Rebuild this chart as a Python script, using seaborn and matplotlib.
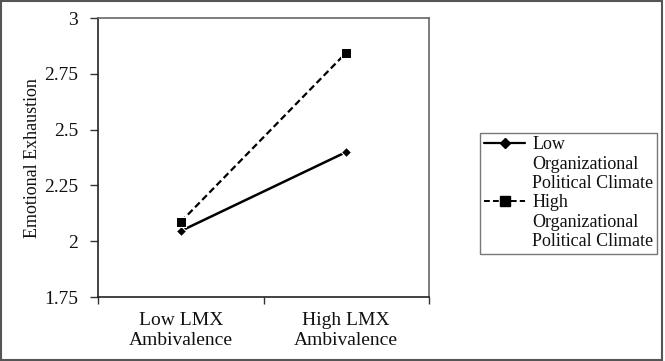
import matplotlib

matplotlib.use("Agg")

import matplotlib.pyplot as plt
import pandas as pd
import seaborn as sns
from matplotlib.lines import Line2D
from matplotlib.patches import Rectangle


LMX_LEVELS = ["Low LMX\nAmbivalence", "High LMX\nAmbivalence"]
LOW_CLIMATE = [2.046, 2.400]
HIGH_CLIMATE = [2.087, 2.845]
SERIES = ["Low Organizational Political Climate", "High Organizational Political Climate"]
Y_TICKS = [1.75, 2, 2.25, 2.5, 2.75, 3]
Y_TICK_LABELS = ["1.75", "2", "2.25", "2.5", "2.75", "3"]


def set_theme() -> None:
    sns.set_theme(style="white")
    plt.rcParams.update(
        {
            "font.family": ["Liberation Serif", "DejaVu Serif"],
            "font.size": 13,
            "text.color": "#111111",
            "axes.labelcolor": "#111111",
            "xtick.color": "#333333",
            "ytick.color": "#333333",
            "xtick.labelcolor": "#111111",
            "ytick.labelcolor": "#111111",
        }
    )


def main() -> None:
    set_theme()
    df = pd.DataFrame(
        {
            "lmx": LMX_LEVELS * 2,
            "ee": LOW_CLIMATE + HIGH_CLIMATE,
            "climate": [SERIES[0]] * 2 + [SERIES[1]] * 2,
        }
    )

    fig = plt.figure(figsize=(6.65, 3.61), dpi=100)
    ax = fig.add_axes([0.1474, 0.177, 0.4977, 0.773])

    sns.lineplot(
        data=df[df["climate"] == SERIES[0]], x="lmx", y="ee", color="black",
        marker="D", markersize=5.5, linewidth=1.8, linestyle="-", ax=ax, legend=False,
    )
    sns.lineplot(
        data=df[df["climate"] == SERIES[1]], x="lmx", y="ee", color="black",
        marker="s", markersize=7, linewidth=1.6, linestyle=(0, (3, 1.6)), ax=ax, legend=False,
    )

    ax.set_xlim(-0.5, 1.5)
    ax.set_ylim(1.75, 3)
    ax.set_yticks(Y_TICKS)
    ax.set_yticklabels(Y_TICK_LABELS)
    ax.set_xticks([0, 1])
    ax.set_xticklabels(LMX_LEVELS, linespacing=1.22)
    ax.set_xticks([-0.5, 0.5, 1.5], minor=True)
    ax.tick_params(axis="x", which="major", length=0, pad=11, labelsize=14)
    ax.tick_params(axis="x", which="minor", length=5, width=1, direction="out", bottom=True)
    ax.tick_params(axis="y", length=6, width=1, direction="out", left=True, pad=8.5, labelsize=14)
    ax.set_xlabel("")
    ax.set_ylabel("Emotional Exhaustion", fontsize=13, labelpad=2)

    for side in ["left", "bottom"]:
        ax.spines[side].set_color("#222222")
        ax.spines[side].set_linewidth(1.2)
    for side in ["top", "right"]:
        ax.spines[side].set_color("#666666")
        ax.spines[side].set_linewidth(1.2)

    # legend: handle on the first line of each entry, blank rows for wrapped text
    blank = Line2D([], [], linestyle="none")
    handles = [
        Line2D([], [], color="black", marker="D", markersize=5, linewidth=1.6),
        blank, blank,
        Line2D([], [], color="black", marker="s", markersize=6.5, linewidth=1.4, linestyle=(0, (3, 1.6))),
        blank, blank,
    ]
    labels = ["Low", "Organizational", "Political Climate", "High", "Organizational", "Political Climate"]
    leg = fig.legend(
        handles, labels, loc="center left", bbox_to_anchor=(0.722, 0.465),
        frameon=True, fancybox=False, fontsize=13, handlelength=2.3, handletextpad=0.4,
        labelspacing=0.13, borderpad=0.2, borderaxespad=0,
    )
    leg.get_frame().set_edgecolor("#555555")
    leg.get_frame().set_linewidth(1.0)

    fig.patches.append(
        Rectangle((0.002, 0.003), 0.994, 0.993, transform=fig.transFigure, fill=False,
                  edgecolor="#555555", linewidth=1.5)
    )

    fig.savefig("out.png", dpi=100, facecolor="white")
    plt.close(fig)


if __name__ == "__main__":
    main()
